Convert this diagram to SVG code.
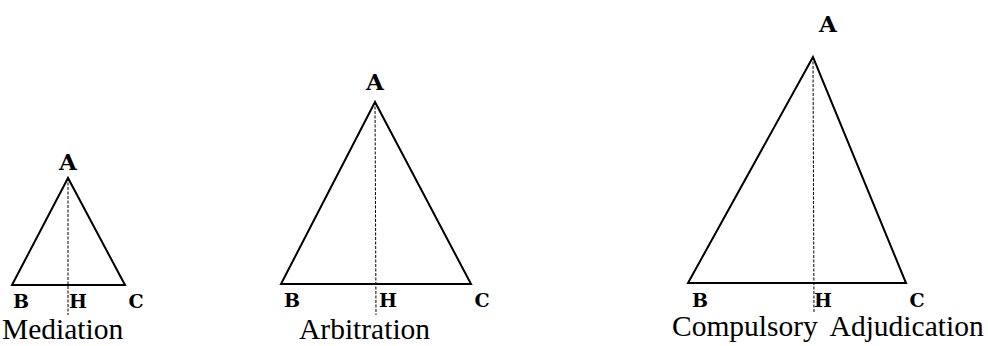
<svg xmlns="http://www.w3.org/2000/svg" width="988" height="346" viewBox="0 0 988 346">
<style>
.tri{fill:none;stroke:#000;stroke-width:2;stroke-linejoin:miter}
.alt{fill:none;stroke:#000;stroke-width:1;stroke-dasharray:3 1.5}
.v{font-family:"DejaVu Serif","Liberation Serif",serif;font-weight:bold;fill:#000;text-anchor:middle}
.va{font-size:23px}
.vb{font-size:19px}
.cap{font-family:"Liberation Serif","DejaVu Serif",serif;font-size:29.5px;fill:#000}
</style>
<rect width="988" height="346" fill="#fff"/>
<g id="mediation">
<polygon class="tri" points="68,178 12,285 125,285"/>
<text class="v va" x="68" y="170">A</text>
<text class="v vb" x="21" y="308">B</text>
<text class="v vb" x="78" y="308">H</text>
<text class="v vb" x="136" y="308">C</text>
<text class="cap" x="2" y="339">Mediation</text>
</g>
<g id="arbitration">
<polygon class="tri" points="375,102 281,284 471,284"/>
<text class="v va" x="375" y="90">A</text>
<text class="v vb" x="292" y="307">B</text>
<text class="v vb" x="388" y="307">H</text>
<text class="v vb" x="482" y="307">C</text>
<text class="cap" x="299" y="339">Arbitration</text>
</g>
<g id="adjudication">
<polygon class="tri" points="813,57 688,283 906,283"/>
<text class="v va" x="828" y="32">A</text>
<text class="v vb" x="700" y="307">B</text>
<text class="v vb" x="823" y="307">H</text>
<text class="v vb" x="917" y="307">C</text>
<text class="cap" x="672" y="336" word-spacing="6">Compulsory Adjudication</text>
</g>
<g id="connectors">
<line class="alt" x1="68" y1="178" x2="68" y2="315"/>
<line class="alt" x1="375" y1="102" x2="376" y2="315"/>
<line class="alt" x1="813" y1="57" x2="814" y2="313"/>
</g>
</svg>
